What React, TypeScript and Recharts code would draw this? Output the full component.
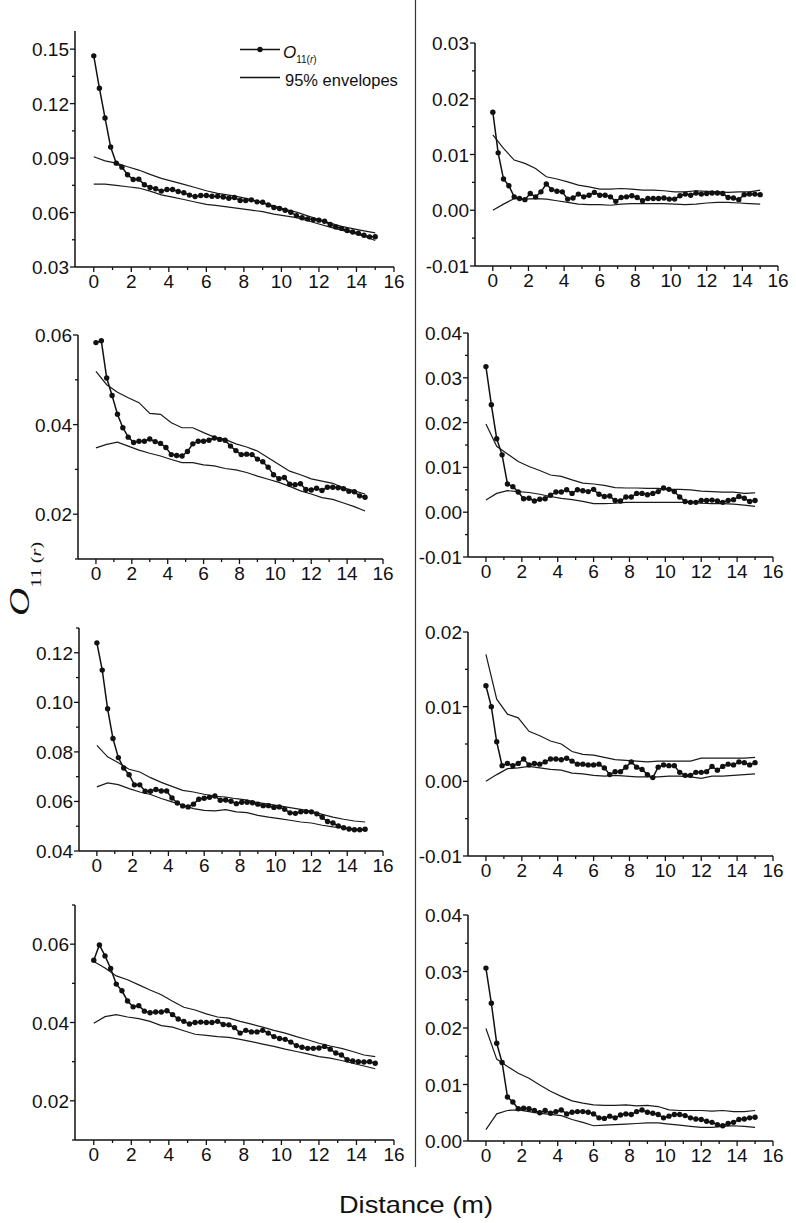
import React from "react";
import { LineChart, Line, XAxis, YAxis } from "recharts";

// distance grid of the observed O11(r) series (m)
const DIST = [
  0, 0.3, 0.6, 0.9, 1.2, 1.5, 1.8, 2.1, 2.4, 2.7, 3, 3.3, 3.6, 3.9, 4.2, 4.5, 4.8,
  5.1, 5.4, 5.7, 6, 6.3, 6.6, 6.9, 7.2, 7.5, 7.8, 8.1, 8.4, 8.7, 9, 9.3, 9.6, 9.9,
  10.2, 10.5, 10.8, 11.1, 11.4, 11.7, 12, 12.3, 12.6, 12.9, 13.2, 13.5, 13.8, 14.1,
  14.4, 14.7, 15,
];
// distances at which the envelopes were read
const ENV_DIST = [
  0, 0.6, 1.2, 1.8, 2.4, 3, 3.6, 4.2, 4.8, 5.4, 6, 6.6, 7.2, 7.8, 8.4, 9, 9.6, 10.2,
  10.8, 11.4, 12, 12.6, 13.2, 13.8, 14.4, 15,
];
const X_TICKS = [0, 1, 2, 3, 4, 5, 6, 7, 8, 9, 10, 11, 12, 13, 14, 15, 16];

// panel 1 (top left)
const P1_O = [0.1463, 0.1285, 0.1121, 0.0961, 0.0872, 0.085, 0.0808, 0.0782, 0.0784, 0.0753, 0.0738, 0.0731, 0.0718, 0.0727, 0.0727, 0.0716, 0.0709, 0.0696, 0.0688, 0.0694, 0.0694, 0.069, 0.069, 0.0686, 0.0679, 0.0683, 0.0666, 0.0666, 0.067, 0.0659, 0.0657, 0.0642, 0.0628, 0.0622, 0.0613, 0.0602, 0.0583, 0.0571, 0.0565, 0.0561, 0.0558, 0.0552, 0.0534, 0.0521, 0.0513, 0.0501, 0.0493, 0.0486, 0.0475, 0.0466, 0.0467];
const P1_HI = [0.0907, 0.0885, 0.0872, 0.0852, 0.0834, 0.081, 0.0788, 0.0772, 0.0755, 0.0738, 0.072, 0.0706, 0.0696, 0.0685, 0.0672, 0.0652, 0.0637, 0.0618, 0.0602, 0.0582, 0.0561, 0.0542, 0.0524, 0.0511, 0.0499, 0.0488];
const P1_LO = [0.0756, 0.0757, 0.075, 0.0742, 0.0735, 0.0718, 0.0697, 0.0685, 0.0672, 0.0658, 0.0645, 0.0638, 0.063, 0.0622, 0.0613, 0.0605, 0.0591, 0.0582, 0.0572, 0.0555, 0.0537, 0.052, 0.0503, 0.0488, 0.047, 0.0446];

// panel 2 (top right)
const P2_O = [0.0176, 0.0103, 0.0056, 0.0044, 0.0024, 0.0021, 0.0019, 0.003, 0.0024, 0.0033, 0.0047, 0.0037, 0.0034, 0.0033, 0.002, 0.0022, 0.0029, 0.0024, 0.0027, 0.0032, 0.0027, 0.0027, 0.0024, 0.0016, 0.0023, 0.0024, 0.0026, 0.0023, 0.0017, 0.0021, 0.0021, 0.0021, 0.0022, 0.002, 0.002, 0.0026, 0.0029, 0.0027, 0.0031, 0.0029, 0.003, 0.0031, 0.0031, 0.003, 0.0023, 0.0022, 0.0019, 0.0028, 0.0029, 0.0029, 0.0028];
const P2_HI = [0.0135, 0.0111, 0.009, 0.0084, 0.0075, 0.006, 0.0056, 0.0051, 0.0045, 0.0042, 0.0038, 0.0038, 0.0039, 0.0038, 0.0036, 0.0036, 0.0035, 0.0033, 0.0033, 0.0035, 0.0034, 0.0033, 0.0032, 0.0033, 0.0033, 0.0036];
const P2_LO = [0, 0.0011, 0.0021, 0.002, 0.0021, 0.002, 0.0017, 0.0014, 0.0011, 0.001, 0.001, 0.0009, 0.0011, 0.0012, 0.0012, 0.0012, 0.0012, 0.0011, 0.001, 0.0011, 0.0013, 0.0014, 0.0014, 0.0013, 0.0012, 0.0011];

// panel 3
const P3_O = [0.0583, 0.0587, 0.0504, 0.0465, 0.0423, 0.0393, 0.0372, 0.036, 0.0363, 0.0363, 0.0368, 0.0362, 0.0358, 0.0349, 0.0333, 0.0331, 0.033, 0.034, 0.0357, 0.0363, 0.0363, 0.0365, 0.037, 0.0367, 0.0365, 0.0352, 0.0342, 0.0333, 0.0334, 0.0333, 0.0323, 0.0317, 0.0305, 0.0288, 0.0279, 0.0282, 0.0267, 0.0266, 0.0268, 0.0255, 0.0254, 0.0258, 0.0253, 0.026, 0.026, 0.0259, 0.0257, 0.0251, 0.025, 0.0241, 0.0238];
const P3_HI = [0.0519, 0.0489, 0.0472, 0.046, 0.0449, 0.0425, 0.0423, 0.0404, 0.0393, 0.0393, 0.0382, 0.0372, 0.0367, 0.0357, 0.035, 0.0341, 0.0326, 0.0311, 0.0296, 0.0288, 0.0279, 0.0274, 0.0269, 0.0259, 0.0252, 0.0245];
const P3_LO = [0.0348, 0.0356, 0.0361, 0.0352, 0.0343, 0.0336, 0.033, 0.0322, 0.0315, 0.0315, 0.031, 0.0308, 0.0302, 0.0299, 0.0293, 0.0285, 0.0278, 0.0271, 0.0262, 0.0252, 0.0245, 0.0237, 0.0233, 0.0225, 0.0217, 0.0207];

// panel 4
const P4_O = [0.0325, 0.024, 0.0164, 0.0128, 0.0063, 0.0057, 0.0045, 0.003, 0.0031, 0.0025, 0.0029, 0.003, 0.0038, 0.0045, 0.0045, 0.005, 0.0042, 0.005, 0.0048, 0.0046, 0.0051, 0.004, 0.0035, 0.0036, 0.0026, 0.0025, 0.0034, 0.0034, 0.0042, 0.0042, 0.0039, 0.0042, 0.0046, 0.0054, 0.0051, 0.0046, 0.0034, 0.0024, 0.0022, 0.0022, 0.0026, 0.0026, 0.0027, 0.0025, 0.0022, 0.0026, 0.0028, 0.0035, 0.0031, 0.0024, 0.0026];
const P4_HI = [0.0197, 0.0147, 0.013, 0.0113, 0.0102, 0.0093, 0.0083, 0.008, 0.0072, 0.0065, 0.0063, 0.006, 0.0055, 0.0054, 0.0054, 0.0053, 0.0053, 0.0051, 0.0051, 0.005, 0.0047, 0.0046, 0.0045, 0.0045, 0.0042, 0.0043];
const P4_LO = [0.0027, 0.0042, 0.0048, 0.0046, 0.0044, 0.004, 0.0035, 0.0031, 0.0028, 0.0024, 0.0019, 0.0019, 0.002, 0.0022, 0.0022, 0.0022, 0.0022, 0.0022, 0.0022, 0.0022, 0.002, 0.0019, 0.0019, 0.0018, 0.0016, 0.0013];

// panel 5
const P5_O = [0.124, 0.113, 0.0974, 0.0854, 0.0777, 0.0735, 0.0708, 0.0667, 0.0667, 0.0641, 0.0641, 0.0648, 0.0642, 0.0642, 0.0614, 0.0594, 0.0582, 0.0578, 0.0589, 0.0609, 0.0613, 0.0617, 0.0622, 0.0605, 0.0606, 0.0601, 0.0591, 0.0597, 0.0597, 0.0595, 0.0589, 0.0583, 0.0583, 0.0576, 0.0578, 0.0568, 0.0554, 0.0552, 0.0558, 0.0559, 0.0558, 0.055, 0.0536, 0.0519, 0.0513, 0.0501, 0.0494, 0.0489, 0.0486, 0.0486, 0.0488];
const P5_HI = [0.0826, 0.078, 0.0756, 0.073, 0.0719, 0.0696, 0.0677, 0.0661, 0.0645, 0.0638, 0.0629, 0.0621, 0.0618, 0.0611, 0.0605, 0.0595, 0.0589, 0.0582, 0.0575, 0.0568, 0.056, 0.0548, 0.0537, 0.0528, 0.0521, 0.0517];
const P5_LO = [0.0659, 0.0675, 0.0668, 0.0652, 0.0638, 0.0628, 0.0612, 0.0598, 0.0585, 0.0571, 0.0564, 0.0562, 0.0567, 0.0558, 0.0555, 0.0544, 0.0537, 0.0531, 0.0524, 0.0517, 0.0513, 0.0504, 0.0497, 0.0493, 0.0488, 0.0483];

// panel 6
const P6_O = [0.0128, 0.01, 0.0053, 0.0021, 0.0024, 0.0021, 0.0024, 0.003, 0.0022, 0.0024, 0.0023, 0.0026, 0.003, 0.003, 0.0029, 0.0031, 0.0027, 0.0023, 0.0023, 0.0022, 0.0022, 0.0023, 0.0018, 0.0009, 0.0013, 0.0013, 0.0019, 0.0026, 0.0019, 0.0016, 0.0009, 0.0005, 0.0019, 0.0022, 0.0021, 0.0021, 0.0012, 0.0008, 0.0008, 0.0012, 0.0012, 0.0013, 0.002, 0.0015, 0.002, 0.0023, 0.0022, 0.0026, 0.0025, 0.0022, 0.0025];
const P6_HI = [0.017, 0.011, 0.009, 0.0085, 0.0067, 0.0061, 0.0054, 0.005, 0.004, 0.0036, 0.0035, 0.0032, 0.0029, 0.0028, 0.0027, 0.0026, 0.0027, 0.0027, 0.0027, 0.0027, 0.0031, 0.0031, 0.0031, 0.0031, 0.0031, 0.0032];
const P6_LO = [0, 0.0009, 0.0017, 0.0018, 0.002, 0.0018, 0.0016, 0.0015, 0.0011, 0.001, 0.0008, 0.0007, 0.0008, 0.0007, 0.0006, 0.0006, 0.0006, 0.0007, 0.0007, 0.0006, 0.0004, 0.0007, 0.0007, 0.0008, 0.0009, 0.001];

// panel 7
const P7_O = [0.0559, 0.0598, 0.057, 0.0538, 0.0498, 0.0481, 0.0455, 0.044, 0.0443, 0.0429, 0.0425, 0.0427, 0.0427, 0.043, 0.042, 0.0409, 0.0403, 0.0396, 0.04, 0.0401, 0.04, 0.04, 0.0403, 0.0395, 0.0394, 0.0387, 0.0373, 0.038, 0.0376, 0.0376, 0.038, 0.0373, 0.0364, 0.0359, 0.0357, 0.035, 0.0341, 0.0337, 0.0334, 0.0334, 0.0335, 0.0339, 0.0332, 0.0322, 0.0317, 0.0305, 0.0302, 0.03, 0.0299, 0.03, 0.0296];
const P7_HI = [0.0556, 0.0539, 0.0519, 0.0509, 0.0496, 0.0483, 0.0471, 0.0454, 0.0439, 0.0432, 0.0422, 0.0414, 0.0411, 0.0403, 0.0396, 0.0388, 0.038, 0.0373, 0.0364, 0.0356, 0.0347, 0.034, 0.0334, 0.0326, 0.0317, 0.0313];
const P7_LO = [0.0398, 0.0415, 0.042, 0.0414, 0.041, 0.0403, 0.0392, 0.0388, 0.0379, 0.037, 0.0367, 0.0364, 0.0362, 0.0357, 0.0351, 0.0345, 0.0339, 0.0332, 0.0326, 0.032, 0.0313, 0.0309, 0.0303, 0.0296, 0.0289, 0.0282];

// panel 8
const P8_O = [0.0306, 0.0244, 0.0173, 0.0139, 0.0078, 0.0069, 0.0057, 0.0058, 0.0057, 0.0054, 0.005, 0.0054, 0.0049, 0.0052, 0.0055, 0.0048, 0.0051, 0.0052, 0.0052, 0.0051, 0.0048, 0.0041, 0.004, 0.0044, 0.0041, 0.0046, 0.0048, 0.0047, 0.0052, 0.0055, 0.0051, 0.0049, 0.0047, 0.0041, 0.0044, 0.0047, 0.0047, 0.0045, 0.0041, 0.0039, 0.0038, 0.0035, 0.0033, 0.0029, 0.0027, 0.0031, 0.0033, 0.0038, 0.0039, 0.0041, 0.0042];
const P8_HI = [0.0199, 0.0145, 0.0132, 0.012, 0.0111, 0.0099, 0.0088, 0.0079, 0.0071, 0.0067, 0.0064, 0.0063, 0.0063, 0.0064, 0.0062, 0.0063, 0.0061, 0.0055, 0.0054, 0.0054, 0.0054, 0.0053, 0.0054, 0.0052, 0.0052, 0.0054];
const P8_LO = [0.002, 0.0048, 0.0054, 0.0055, 0.0052, 0.0049, 0.0047, 0.0045, 0.0038, 0.0033, 0.0027, 0.0028, 0.0029, 0.003, 0.0031, 0.0032, 0.0032, 0.003, 0.0028, 0.0026, 0.0024, 0.0024, 0.0026, 0.0027, 0.0026, 0.0024];

const INK = "#111";
const SANS = "'Liberation Sans', Arial, sans-serif";
const SERIF = "'Liberation Serif', 'Times New Roman', serif";

// rect = plot area [left, top, right, bottom] on the page
const PANELS = [
  { o: P1_O, hi: P1_HI, lo: P1_LO, domain: [0.03, 0.16], major: [0.03, 0.06, 0.09, 0.12, 0.15], minor: [0.045, 0.075, 0.105, 0.135], rect: [75, 31, 394, 267] },
  { o: P2_O, hi: P2_HI, lo: P2_LO, domain: [-0.01, 0.03], major: [-0.01, 0, 0.01, 0.02, 0.03], minor: [-0.005, 0.005, 0.015, 0.025], rect: [475, 43, 778, 266] },
  { o: P3_O, hi: P3_HI, lo: P3_LO, domain: [0.01, 0.06], major: [0.02, 0.04, 0.06], minor: [0.01, 0.03, 0.05], rect: [78, 335, 383, 559] },
  { o: P4_O, hi: P4_HI, lo: P4_LO, domain: [-0.01, 0.04], major: [-0.01, 0, 0.01, 0.02, 0.03, 0.04], minor: [-0.005, 0.005, 0.015, 0.025, 0.035], rect: [468, 333, 773, 557] },
  { o: P5_O, hi: P5_HI, lo: P5_LO, domain: [0.04, 0.13], major: [0.04, 0.06, 0.08, 0.1, 0.12], minor: [0.05, 0.07, 0.09, 0.11, 0.13], rect: [79, 628, 383, 851] },
  { o: P6_O, hi: P6_HI, lo: P6_LO, domain: [-0.01, 0.02], major: [-0.01, 0, 0.01, 0.02], minor: [-0.005, 0.005, 0.015], rect: [468, 632, 773, 856] },
  { o: P7_O, hi: P7_HI, lo: P7_LO, domain: [0.01, 0.07], major: [0.02, 0.04, 0.06], minor: [0.01, 0.03, 0.05, 0.07], rect: [75, 905, 394, 1140] },
  { o: P8_O, hi: P8_HI, lo: P8_LO, domain: [0, 0.04], major: [0, 0.01, 0.02, 0.03, 0.04], minor: [0.005, 0.015, 0.025, 0.035], rect: [468, 915, 773, 1141] },
];

function buildRows(o: number[], hi: number[], lo: number[]) {
  return DIST.map((r, i) => {
    const k = ENV_DIST.indexOf(r);
    return { r, o: o[i], hi: k >= 0 ? hi[k] : null, lo: k >= 0 ? lo[k] : null };
  });
}

const xTick = (props: any) => {
  const { x, y, payload } = props;
  const major = payload.value % 2 === 0;
  return (
    <g>
      <line x1={x} x2={x} y1={y} y2={y + (major ? 5 : 3)} stroke={INK} strokeWidth={1.3} />
      {major && (
        <text x={x} y={y + 21} textAnchor="middle" fontSize={19} fontFamily={SANS} fill={INK}>
          {payload.value}
        </text>
      )}
    </g>
  );
};

const makeYTick = (major: number[]) => (props: any) => {
  const { x, y, payload } = props;
  const isMajor = major.some((m) => Math.abs(m - payload.value) < 1e-9);
  return (
    <g>
      <line x1={x} x2={x - (isMajor ? 5 : 3)} y1={y} y2={y} stroke={INK} strokeWidth={1.3} />
      {isMajor && (
        <text x={x - 6} y={y + 7} textAnchor="end" fontSize={19} fontFamily={SANS} fill={INK}>
          {payload.value.toFixed(2)}
        </text>
      )}
    </g>
  );
};

function Panel({ p }: { p: any }) {
  const [L, T, R, B] = p.rect;
  const YW = 60;
  const XH = 40;
  const MT = 10;
  const MR = 22;
  const rows = buildRows(p.o, p.hi, p.lo);
  const yTicks = [...p.major, ...p.minor].sort((a, b) => a - b);
  return (
    <div style={{ position: "absolute", left: L - YW, top: T - MT }}>
      <LineChart
        width={R - L + YW + MR}
        height={B - T + MT + XH}
        data={rows}
        margin={{ top: MT, right: MR, left: 0, bottom: 0 }}
      >
        <XAxis
          type="number"
          dataKey="r"
          domain={[-1, 16]}
          ticks={X_TICKS}
          interval={0}
          height={XH}
          tickSize={0}
          tickMargin={0}
          tickLine={false}
          axisLine={{ stroke: INK, strokeWidth: 1.5 }}
          tick={xTick}
        />
        <YAxis
          type="number"
          domain={p.domain}
          ticks={yTicks}
          interval={0}
          width={YW}
          tickSize={0}
          tickMargin={0}
          tickLine={false}
          axisLine={{ stroke: INK, strokeWidth: 1.5 }}
          tick={makeYTick(p.major)}
        />
        <Line type="linear" dataKey="hi" stroke="#1a1a1a" strokeWidth={1.2} dot={false} activeDot={false} connectNulls isAnimationActive={false} />
        <Line type="linear" dataKey="lo" stroke="#1a1a1a" strokeWidth={1.2} dot={false} activeDot={false} connectNulls isAnimationActive={false} />
        <Line
          type="linear"
          dataKey="o"
          stroke={INK}
          strokeWidth={1.5}
          dot={{ r: 2.7, fill: INK, stroke: INK, strokeWidth: 0 }}
          activeDot={false}
          isAnimationActive={false}
        />
      </LineChart>
    </div>
  );
}

export default function App() {
  return (
    <div style={{ position: "absolute", left: 0, top: 0, width: 796, height: 1223, background: "#fff", overflow: "hidden" }}>
      {PANELS.map((p, i) => (
        <Panel key={i} p={p} />
      ))}
      <svg width={796} height={1223} style={{ position: "absolute", left: 0, top: 0, pointerEvents: "none" }}>
        {/* column divider */}
        <line x1={415.5} x2={415.5} y1={0} y2={1167} stroke="#333" strokeWidth={1.2} />
        {/* legend */}
        <line x1={240} x2={280} y1={49.5} y2={49.5} stroke={INK} strokeWidth={1.5} />
        <circle cx={260} cy={49.5} r={2.7} fill={INK} />
        <text x={283} y={57.5} fontFamily={SANS} fill={INK}>
          <tspan fontSize={17} fontStyle="italic">O</tspan>
          <tspan fontSize={10} dy={5}>11(</tspan>
          <tspan fontSize={10} fontStyle="italic">r</tspan>
          <tspan fontSize={10}>)</tspan>
        </text>
        <line x1={240} x2={280} y1={77.5} y2={77.5} stroke={INK} strokeWidth={1.3} />
        <text x={285} y={85.5} fontFamily={SANS} fontSize={16.5} fill={INK}>
          95% envelopes
        </text>
        {/* y axis title */}
        <text transform="translate(29,616) rotate(-90) scale(1.35,1)" fontFamily={SERIF} fill={INK}>
          <tspan fontSize={29} fontStyle="italic">O</tspan>
          <tspan fontSize={15} dy={12}>11 (</tspan>
          <tspan fontSize={15} fontStyle="italic">r</tspan>
          <tspan fontSize={15}>)</tspan>
        </text>
        {/* x axis title */}
        <text x={416} y={1213} textAnchor="middle" fontFamily={SANS} fontSize={24} textLength={154} lengthAdjust="spacingAndGlyphs" fill={INK}>
          Distance (m)
        </text>
      </svg>
    </div>
  );
}
